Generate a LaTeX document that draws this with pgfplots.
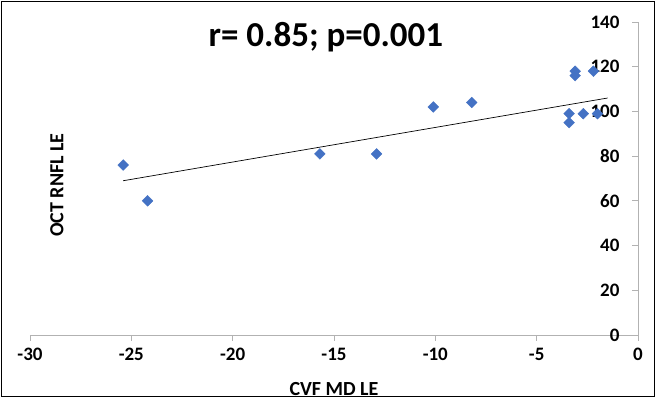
\documentclass[border=0pt]{standalone}
\usepackage{pgfplots}
\pgfplotsset{compat=1.18}
\usepackage{fontspec}
\setmainfont{Carlito}
\definecolor{mblue}{RGB}{68,114,196}
\begin{document}
\begin{tikzpicture}
\begin{axis}[at={(0,0)}, anchor=south west, scale only axis, width=608pt, height=313pt,
 xmin=-30, xmax=0, ymin=0, ymax=140,
 axis x line=bottom, axis y line=right,
 axis line style={-, color=gray!60, line width=0.8pt},
 xtick={-30,-25,...,0}, ytick={0,20,...,140},
 xtick align=outside, ytick align=inside, major tick length=6pt,
 tick style={gray!60, line width=0.8pt},
 /pgf/number format/assume math mode=true,
 ticklabel style={font=\fontsize{19}{21}\selectfont\bfseries},
 yticklabel style={anchor=east, xshift=-15pt},
 xticklabel style={yshift=-4pt},
 clip=false,
]
\addplot[only marks, mark=square*, mark size=3.8pt, mark options={rotate=45, fill=mblue, draw=mblue}] coordinates {
(-25.4,76) (-24.2,60) (-15.7,81) (-12.9,81) (-10.1,102) (-8.2,104)
(-3.1,118) (-3.1,116) (-2.2,118) (-3.4,99) (-3.4,95) (-2.7,99) (-2.0,99)
};
\addplot[black, line width=0.7pt, no marks] coordinates {(-25.4,69) (-1.5,106)};
\node[font=\fontsize{35}{40}\selectfont\bfseries] at (axis cs:-15.4,133) {r= 0.85; p=0.001};
\end{axis}
\draw[line width=1pt] (-28pt,-62pt) rectangle (624pt,333pt);
\node[font=\fontsize{20}{22}\selectfont\bfseries] at (304pt,-54pt) {CVF MD LE};
\node[font=\fontsize{20}{22}\selectfont\bfseries, rotate=90] at (27pt,150pt) {OCT RNFL LE};
\pgfresetboundingbox
\useasboundingbox (-30pt,-64pt) rectangle (627pt,335pt);
\end{tikzpicture}
\end{document}
